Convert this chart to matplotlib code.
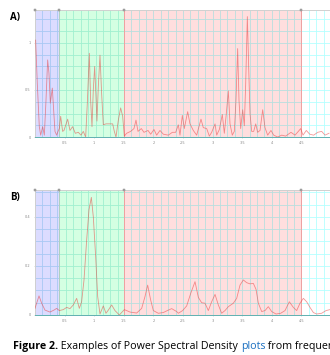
import numpy as np
import matplotlib.pyplot as plt

# Panel A: frequency / power
freq_a = [0.011, 0.039, 0.073, 0.096, 0.13, 0.158, 0.186, 0.214, 0.236, 0.259,
          0.293, 0.315, 0.338, 0.366, 0.389, 0.411, 0.434, 0.467, 0.49, 0.552,
          0.591, 0.636, 0.681, 0.732, 0.777, 0.816, 0.856, 0.884, 0.918, 0.94,
          0.963, 0.985, 1.008, 1.03, 1.047, 1.07, 1.098, 1.126, 1.154, 1.199,
          1.256, 1.312, 1.34, 1.368, 1.408, 1.447, 1.481, 1.509, 1.548, 1.616,
          1.672, 1.706, 1.74, 1.796, 1.841, 1.909, 1.954, 2.01, 2.055, 2.111,
          2.168, 2.252, 2.32, 2.376, 2.421, 2.449, 2.489, 2.522, 2.579, 2.618,
          2.674, 2.731, 2.804, 2.843, 2.9, 2.945, 2.984, 3.041, 3.069, 3.114,
          3.164, 3.198, 3.232, 3.266, 3.294, 3.333, 3.367, 3.395, 3.423, 3.446,
          3.474, 3.508, 3.536, 3.559, 3.587, 3.609, 3.632, 3.66, 3.694, 3.728,
          3.761, 3.801, 3.846, 3.885, 3.93, 3.986, 4.032, 4.099, 4.167, 4.234,
          4.324, 4.392, 4.448, 4.488, 4.527, 4.583, 4.64, 4.707, 4.775, 4.842,
          4.899, 4.966]
psd_a = [1.03, 0.57, 0.11, 0.02, 0.11, 0.02, 0.39, 0.82, 0.68, 0.36,
         0.52, 0.29, 0.06, 0.02, 0.06, 0.09, 0.22, 0.06, 0.07, 0.19,
         0.07, 0.11, 0.04, 0.05, 0.02, 0.06, 0.0, 0.36, 0.89, 0.39,
         0.11, 0.5, 0.75, 0.43, 0.17, 0.54, 0.87, 0.46, 0.13, 0.14,
         0.14, 0.14, 0.06, 0.0, 0.18, 0.31, 0.22, 0.01, 0.04, 0.06,
         0.09, 0.18, 0.06, 0.09, 0.05, 0.07, 0.03, 0.08, 0.02, 0.07,
         0.03, 0.02, 0.05, 0.05, 0.13, 0.02, 0.23, 0.09, 0.27, 0.14,
         0.07, 0.02, 0.19, 0.1, 0.09, 0.01, 0.05, 0.14, 0.02, 0.08,
         0.24, 0.04, 0.25, 0.49, 0.14, 0.02, 0.06, 0.39, 0.94, 0.39,
         0.09, 0.29, 0.12, 0.57, 1.28, 0.75, 0.25, 0.06, 0.06, 0.14,
         0.05, 0.07, 0.29, 0.1, 0.02, 0.07, 0.02, 0.0, 0.02, 0.01,
         0.05, 0.02, 0.06, 0.09, 0.02, 0.07, 0.03, 0.02, 0.05, 0.06,
         0.02, 0.04]

# Panel B
freq_b = [0.0, 0.028, 0.068, 0.113, 0.169, 0.253, 0.321, 0.366, 0.411, 0.479,
          0.535, 0.591, 0.647, 0.704, 0.749, 0.788, 0.828, 0.873, 0.912, 0.952,
          0.985, 1.025, 1.059, 1.098, 1.154, 1.199, 1.239, 1.295, 1.351, 1.425,
          1.509, 1.605, 1.717, 1.802, 1.858, 1.903, 1.954, 1.999, 2.083, 2.168,
          2.235, 2.309, 2.393, 2.421, 2.494, 2.562, 2.63, 2.703, 2.759, 2.815,
          2.872, 2.928, 2.984, 3.041, 3.097, 3.153, 3.209, 3.266, 3.35, 3.407,
          3.463, 3.519, 3.575, 3.632, 3.688, 3.733, 3.773, 3.829, 3.885, 3.941,
          3.998, 4.071, 4.15, 4.223, 4.296, 4.364, 4.42, 4.476, 4.533, 4.589,
          4.645, 4.702, 4.758, 4.842, 4.916, 4.983]
psd_b = [0.027, 0.048, 0.078, 0.048, 0.02, 0.012, 0.02, 0.027, 0.018, 0.022,
         0.031, 0.026, 0.041, 0.068, 0.027, 0.054, 0.143, 0.306, 0.429, 0.48,
         0.401, 0.238, 0.075, 0.004, 0.037, 0.007, 0.02, 0.041, 0.018, 0.0,
         0.022, 0.012, 0.008, 0.027, 0.075, 0.122, 0.061, 0.018, 0.007, 0.01,
         0.018, 0.026, 0.014, 0.007, 0.018, 0.037, 0.088, 0.136, 0.072, 0.05,
         0.048, 0.018, 0.054, 0.084, 0.041, 0.007, 0.018, 0.034, 0.048, 0.068,
         0.122, 0.143, 0.132, 0.127, 0.129, 0.105, 0.048, 0.014, 0.018, 0.034,
         0.014, 0.004, 0.007, 0.018, 0.054, 0.031, 0.018, 0.048, 0.068, 0.054,
         0.031, 0.01, 0.004, 0.007, 0.018, 0.022]

# frequency bands (edges) and their colours
band_edges = [0.0, 0.4, 1.5, 4.5, 5.1]
band_colors = ['#dcdcff', '#d4ffe2', '#ffdede', '#ffffff']
grid_colors = ['#a8c8f4', '#a0f0d0', '#b8dede', '#b4ffff']

x_ticks = [0.5, 1.0, 1.5, 2.0, 2.5, 3.0, 3.5, 4.0, 4.5, 5.0]

fig = plt.figure(figsize=(3.3, 3.55), dpi=100)


def draw_panel(rect, freq, psd, ytop, ystep, yticks, label):
    ax = fig.add_axes(rect)
    ax.set_xlim(band_edges[0], band_edges[-1])
    ax.set_ylim(0, ytop)

    # coloured bands with their own grid lines
    for i in range(len(band_colors)):
        x0, x1 = band_edges[i], band_edges[i + 1]
        ax.axvspan(x0, x1, color=band_colors[i], lw=0, zorder=0)
        for gx in np.arange(x0, x1 + 1e-9, 0.125):
            ax.plot([gx, gx], [0, ytop], color=grid_colors[i], lw=0.6, zorder=1)
        for gy in np.arange(0, ytop, ystep):
            ax.plot([x0, x1], [gy, gy], color=grid_colors[i], lw=0.6, zorder=1)
    # band boundaries
    for e in band_edges[1:-1]:
        ax.axvline(e, color='#f0a0a0' if e > 1 else '#b0d0c0', lw=0.7, zorder=1)

    ax.plot(freq, psd, color='#e83030', alpha=0.5, lw=0.6, zorder=3)

    # markers on the top edge
    ax.plot(band_edges[:-1], [ytop] * 4, 's', ms=2, color='#b0b0b0',
            mec='#808080', mew=0.3, clip_on=False, zorder=5)

    ax.spines['right'].set_visible(False)
    ax.spines['top'].set_color('#d0d0d0')
    ax.spines['left'].set_color('#d0d0d0')
    ax.spines['bottom'].set_color('#60b0b0')
    for s in ax.spines.values():
        s.set_linewidth(0.7)

    ax.set_xticks(x_ticks)
    ax.set_xticklabels(['%g' % t for t in x_ticks])
    ax.set_yticks(yticks)
    ax.set_yticklabels(['%g' % t for t in yticks])
    ax.tick_params(labelsize=2.5, colors='#bbbbbb', labelcolor='#888888',
                   length=1, width=0.4, pad=2)

    fig.text(0.03, rect[1] + rect[3] - 0.005, label, fontsize=7,
             fontweight='bold', ha='left', va='top', family='Open Sans')
    return ax


draw_panel([0.106, 0.614, 0.915, 0.358], freq_a, psd_a, 1.351, 0.125,
           [0, 0.5, 1.0], 'A)')
draw_panel([0.106, 0.1127, 0.915, 0.352], freq_b, psd_b, 0.51, 0.05,
           [0, 0.2, 0.4], 'B)')

# caption, drawn piece by piece (runs off the right edge, as in the source)
pieces = [('Figure 2.', 'bold', 'black'),
          (' Examples of Power Spectral Density ', 'normal', 'black'),
          ('plots', 'normal', '#1a6fc0'),
          (' from frequency', 'normal', 'black')]
renderer = fig.canvas.get_renderer()
xpos = 13
for txt, wt, col in pieces:
    t = fig.text(xpos / 330, 1 - 347 / 355, txt, fontsize=7.65, fontweight=wt,
                 color=col, family='Open Sans', va='center', ha='left')
    xpos += t.get_window_extent(renderer).width

fig.savefig('out.png', dpi=100)
